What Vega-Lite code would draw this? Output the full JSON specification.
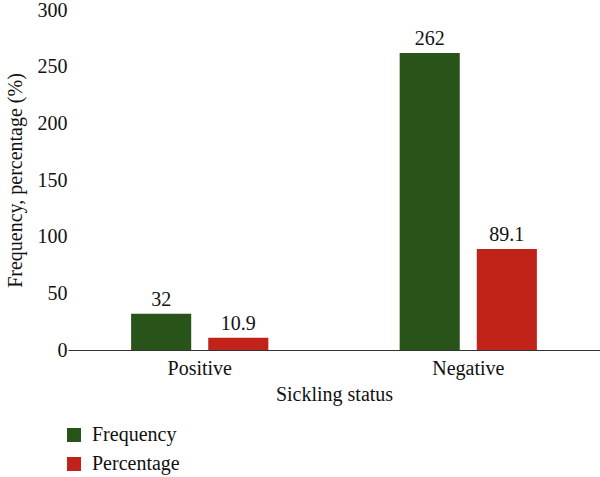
{
  "$schema": "https://vega.github.io/schema/vega-lite/v6.json",
  "width": 532,
  "height": 340,
  "autosize": {"type": "none"},
  "padding": {"left": 68, "top": 10, "right": 0, "bottom": 127},
  "background": "white",
  "data": {
    "values": [
      {"status": "Positive", "measure": "Frequency", "value": 32, "label": "32"},
      {"status": "Positive", "measure": "Percentage", "value": 10.9, "label": "10.9"},
      {"status": "Negative", "measure": "Frequency", "value": 262, "label": "262"},
      {"status": "Negative", "measure": "Percentage", "value": 89.1, "label": "89.1"}
    ]
  },
  "encoding": {
    "x": {
      "field": "status",
      "type": "nominal",
      "sort": ["Positive", "Negative"],
      "scale": {"paddingInner": 0.489, "paddingOuter": 0.235},
      "axis": {
        "title": "Sickling status",
        "labelAngle": 0,
        "ticks": false,
        "domainColor": "#333333",
        "domainWidth": 1,
        "labelPadding": 8,
        "titlePadding": 6,
        "labelFont": "Liberation Serif",
        "labelFontSize": 20,
        "labelColor": "#111111",
        "titleFont": "Liberation Serif",
        "titleFontSize": 20,
        "titleFontWeight": "normal",
        "titleColor": "#111111"
      }
    },
    "xOffset": {
      "field": "measure",
      "type": "nominal",
      "scale": {"paddingInner": 0.2208, "paddingOuter": 0}
    },
    "y": {
      "field": "value",
      "type": "quantitative",
      "scale": {"domain": [0, 300]},
      "axis": {
        "title": "Frequency, percentage (%)",
        "values": [0, 50, 100, 150, 200, 250, 300],
        "domain": false,
        "ticks": false,
        "grid": false,
        "labelPadding": 1,
        "titlePadding": 12,
        "labelFont": "Liberation Serif",
        "labelFontSize": 20,
        "labelColor": "#111111",
        "titleFont": "Liberation Serif",
        "titleFontSize": 20,
        "titleFontWeight": "normal",
        "titleColor": "#111111"
      }
    }
  },
  "layer": [
    {
      "mark": {"type": "bar"},
      "encoding": {
        "color": {
          "field": "measure",
          "type": "nominal",
          "scale": {"domain": ["Frequency", "Percentage"], "range": ["#285419", "#c1231a"]},
          "legend": {
            "title": null,
            "orient": "none",
            "legendX": -4,
            "legendY": 415,
            "symbolType": "square",
            "symbolSize": 196,
            "symbolStrokeWidth": 0,
            "symbolOpacity": 1,
            "rowPadding": 9,
            "labelFont": "Liberation Serif",
            "labelFontSize": 20,
            "labelColor": "#111111",
            "labelOffset": 8
          }
        }
      }
    },
    {
      "mark": {
        "type": "text",
        "baseline": "bottom",
        "dy": -4,
        "font": "Liberation Serif",
        "fontSize": 20,
        "color": "#111111"
      },
      "encoding": {
        "text": {"field": "label", "type": "nominal"}
      }
    }
  ],
  "config": {"view": {"stroke": null}}
}
